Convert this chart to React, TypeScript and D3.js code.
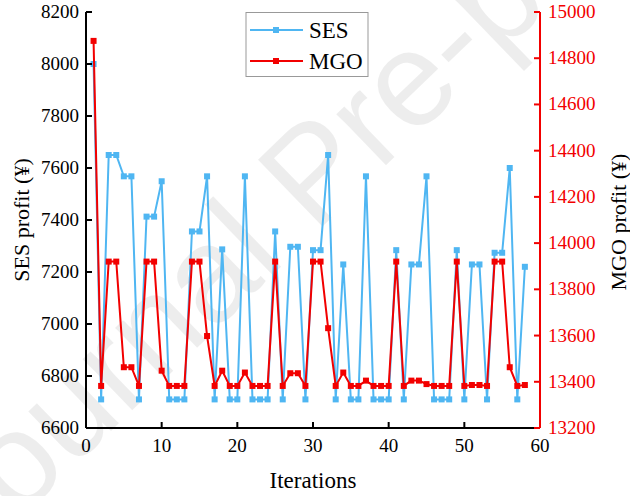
import React from 'react';
import * as d3 from 'd3';

// SES and MGO profit per iteration (iteration = index + 1)
const sesProfit = [
  8000, 6710, 7650, 7650, 7568, 7568, 6710, 7413, 7413, 7549,
  6710, 6710, 6710, 7356, 7356, 7568, 6710, 7287, 6710, 6710,
  7568, 6710, 6710, 6710, 7356, 6710, 7297, 7297, 6710, 7284,
  7284, 7650, 6710, 7229, 6710, 6710, 7568, 6710, 6710, 6710,
  7284, 6710, 7229, 7229, 7568, 6710, 6710, 6710, 7284, 6710,
  7229, 7229, 6710, 7274, 7274, 7600, 6710, 7220,
];
const mgoProfit = [
  14875, 13382, 13920, 13920, 13463, 13463, 13382, 13920, 13920, 13448,
  13382, 13382, 13382, 13920, 13920, 13598, 13382, 13448, 13382, 13382,
  13440, 13382, 13382, 13382, 13920, 13382, 13437, 13437, 13382, 13920,
  13920, 13632, 13382, 13440, 13382, 13382, 13405, 13382, 13382, 13382,
  13920, 13382, 13405, 13405, 13390, 13382, 13382, 13382, 13920, 13382,
  13386, 13386, 13382, 13920, 13920, 13463, 13382, 13386,
];
const xTicks = [0, 10, 20, 30, 40, 50, 60];
const sesTicks = [6600, 6800, 7000, 7200, 7400, 7600, 7800, 8000, 8200];
const mgoTicks = [13200, 13400, 13600, 13800, 14000, 14200, 14400, 14600, 14800, 15000];
const seriesNames = ['SES', 'MGO'];

const W = 630, H = 496;
const left = 86, right = 540, top = 12, bottom = 428;
const BLUE = '#4fb6f2';
const RED = '#f20000';
const FONT = '"Liberation Serif", "Times New Roman", serif';

const App = () => {
  const x = d3.scaleLinear().domain([0, 60]).range([left, right]);
  const yL = d3.scaleLinear().domain([6600, 8200]).range([bottom, top]);
  const yR = d3.scaleLinear().domain([13200, 15000]).range([bottom, top]);

  const sesLine = d3.line<number>().x((_, i) => x(i + 1)).y(d => yL(d));
  const mgoLine = d3.line<number>().x((_, i) => x(i + 1)).y(d => yR(d));

  const mk = 6; // marker size
  const tk = 6; // tick length

  return (
    <svg width={W} height={H} style={{ position: 'absolute', left: 0, top: 0, background: '#fff' }}>
      {/* watermark */}
      <text x={0} y={0} transform="translate(-31,568) rotate(-44)" fontFamily='"Liberation Sans", Arial, sans-serif'
        fontSize={135} fill="#000" fillOpacity={0.07}>Journal Pre-proof</text>

      {/* series */}
      <path d={sesLine(sesProfit) ?? ''} fill="none" stroke={BLUE} strokeWidth={2} />
      {sesProfit.map((d, i) => (
        <rect key={'s' + i} x={x(i + 1) - mk / 2} y={yL(d) - mk / 2} width={mk} height={mk} fill={BLUE} />
      ))}
      <path d={mgoLine(mgoProfit) ?? ''} fill="none" stroke={RED} strokeWidth={2} />
      {mgoProfit.map((d, i) => (
        <rect key={'m' + i} x={x(i + 1) - mk / 2} y={yR(d) - mk / 2} width={mk} height={mk} fill={RED} />
      ))}

      {/* x axis */}
      <line x1={left} x2={right} y1={bottom} y2={bottom} stroke="#000" strokeWidth={2} />
      {xTicks.map(t => (
        <g key={'x' + t}>
          <line x1={x(t)} x2={x(t)} y1={bottom} y2={bottom - tk} stroke="#000" strokeWidth={2} />
          <text x={x(t)} y={bottom + 24} textAnchor="middle" fontFamily={FONT} fontSize={19} fill="#000">{t}</text>
        </g>
      ))}
      <text x={(left + right) / 2} y={488} textAnchor="middle" fontFamily={FONT} fontSize={23} fill="#000">Iterations</text>

      {/* left axis */}
      <line x1={left} x2={left} y1={top} y2={bottom} stroke="#000" strokeWidth={2} />
      {sesTicks.map(t => (
        <g key={'l' + t}>
          <line x1={left} x2={left + tk} y1={yL(t)} y2={yL(t)} stroke="#000" strokeWidth={2} />
          <text x={left - 7} y={yL(t) + 6} textAnchor="end" fontFamily={FONT} fontSize={19} fill="#000">{t}</text>
        </g>
      ))}
      <text transform={`translate(29,${(top + bottom) / 2}) rotate(-90)`} textAnchor="middle" fontFamily={FONT}
        fontSize={22} fill="#000">SES profit (¥)</text>

      {/* right axis */}
      <line x1={right} x2={right} y1={top} y2={bottom} stroke={RED} strokeWidth={2} />
      {mgoTicks.map(t => (
        <g key={'r' + t}>
          <line x1={right} x2={right - tk} y1={yR(t)} y2={yR(t)} stroke={RED} strokeWidth={2} />
          <text x={right + 8} y={yR(t) + 6} textAnchor="start" fontFamily={FONT} fontSize={19} fill={RED}>{t}</text>
        </g>
      ))}
      <text transform={`translate(626,${(top + bottom) / 2 + 2}) rotate(-90)`} textAnchor="middle" fontFamily={FONT}
        fontSize={22} fill="#000">MGO profit (¥)</text>

      {/* legend */}
      <rect x={246} y={12.5} width={122} height={64} fill="#fff" stroke="#999" strokeWidth={1} />
      {seriesNames.map((name, i) => {
        const cy = 30 + i * 31;
        const c = i === 0 ? BLUE : RED;
        return (
          <g key={name}>
            <line x1={250} x2={303} y1={cy} y2={cy} stroke={c} strokeWidth={2} />
            <rect x={276 - mk / 2} y={cy - mk / 2} width={mk} height={mk} fill={c} />
            <text x={309} y={cy + 8} fontFamily={FONT} fontSize={23} fill="#000">{name}</text>
          </g>
        );
      })}
    </svg>
  );
};

export default App;
